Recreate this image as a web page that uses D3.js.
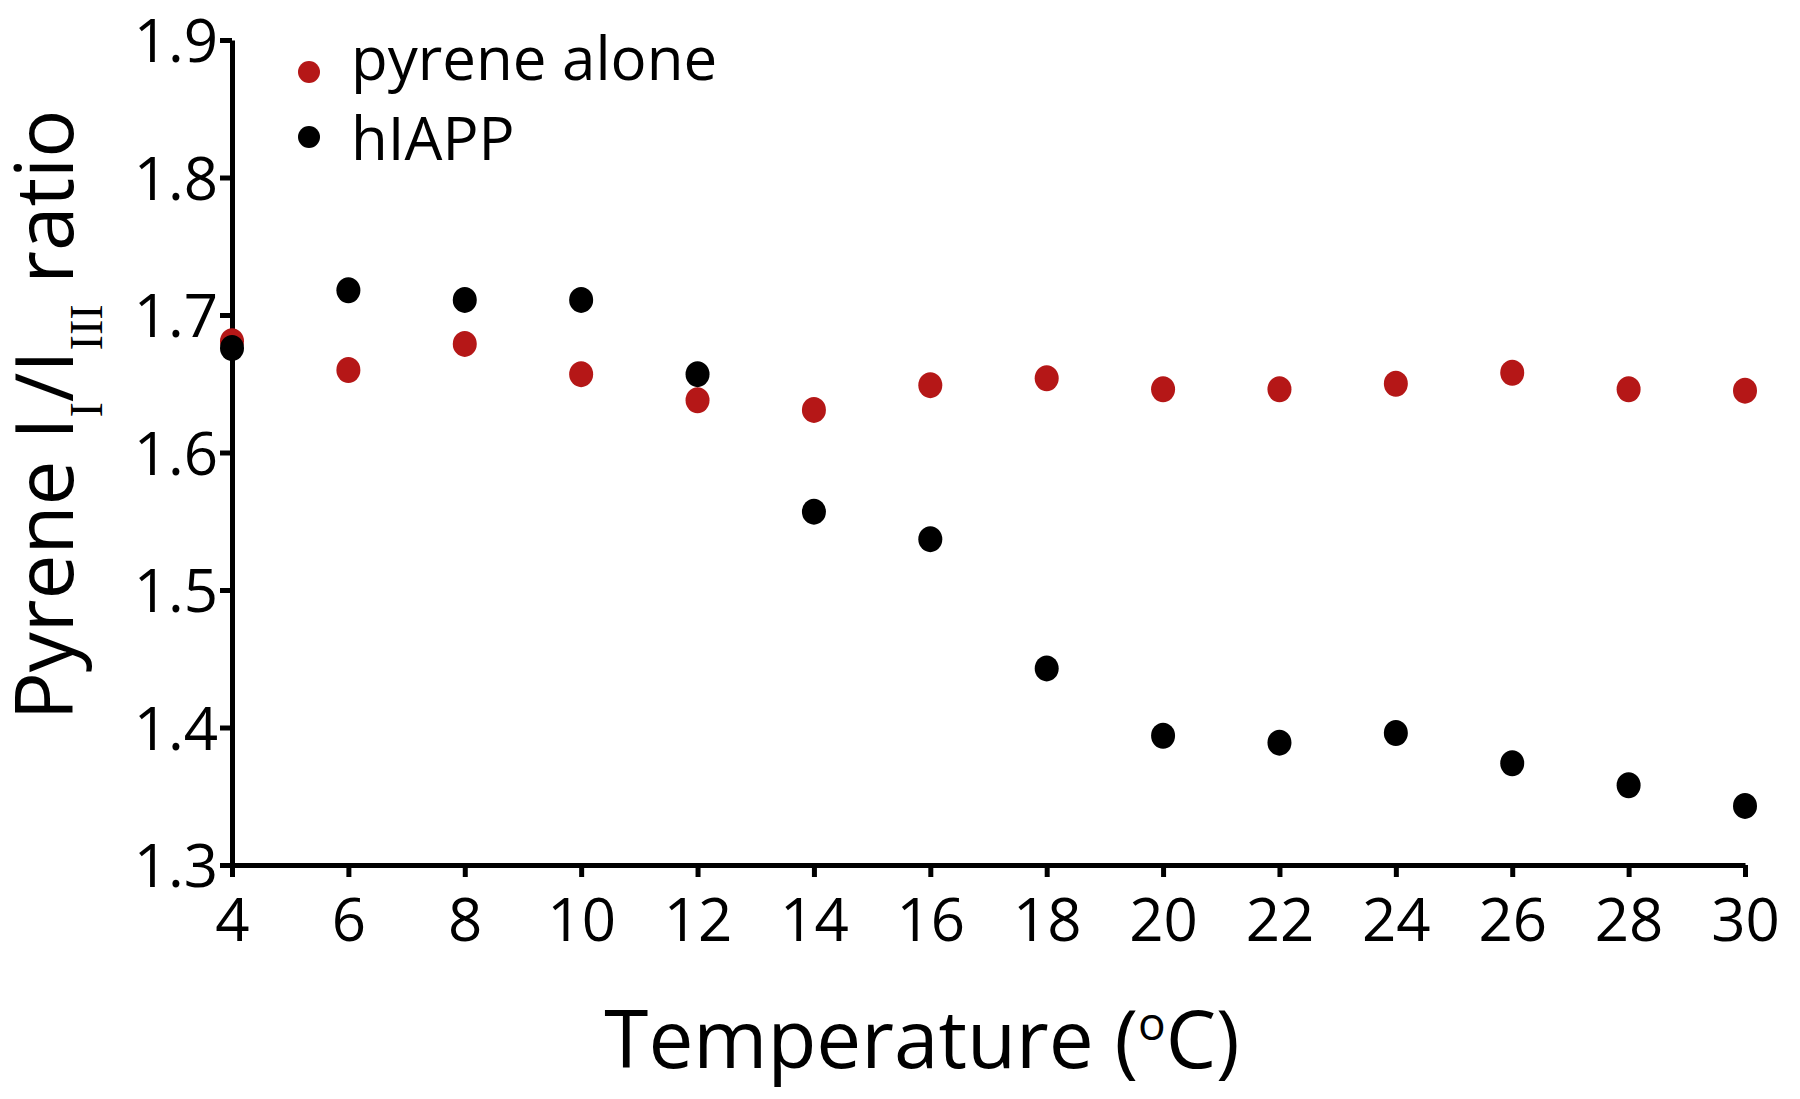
<!DOCTYPE html>
<html>
<head>
<meta charset="utf-8">
<script src="https://cdn.jsdelivr.net/npm/d3@7"></script>
<style>
  body { margin: 0; background: #fff; }
  svg { display: block; }
  text { font-family: "Open Sans", sans-serif; fill: #000; }
</style>
</head>
<body>
<svg id="chart"></svg>
<script>
const temperatures = [4, 6, 8, 10, 12, 14, 16, 18, 20, 22, 24, 26, 28, 30];
const pyreneAlone = [1.681, 1.660, 1.679, 1.657, 1.638, 1.631, 1.649, 1.654, 1.646, 1.646, 1.650, 1.658, 1.646, 1.645];
const hIAPP = [1.676, 1.718, 1.711, 1.711, 1.657, 1.557, 1.537, 1.443, 1.394, 1.389, 1.396, 1.374, 1.358, 1.343];
const yTicks = [1.3, 1.4, 1.5, 1.6, 1.7, 1.8, 1.9];
const seriesNames = ["pyrene alone", "hIAPP"];
const seriesColors = ["#b51717", "#000000"];

const width = 1800;
const height = 1099;

const svg = d3.select("#chart")
  .attr("width", width)
  .attr("height", height);

const x = d3.scaleLinear().domain([4, 30]).range([232, 1745]);
const y = d3.scaleLinear().domain([1.3, 1.9]).range([865, 40]);

// Axes
const xAxis = svg.append("g")
  .attr("transform", `translate(0,${y(1.3)})`)
  .call(d3.axisBottom(x).tickValues(temperatures).tickSize(12).tickSizeOuter(0));

const yAxis = svg.append("g")
  .attr("transform", `translate(${x(4)},0)`)
  .call(d3.axisLeft(y).tickValues(yTicks).tickFormat(d3.format(".1f")).tickSize(12).tickSizeOuter(0).tickPadding(2));

[xAxis, yAxis].forEach(g => {
  g.select(".domain").attr("stroke", "#000").attr("stroke-width", 5);
  g.selectAll(".tick line").attr("stroke", "#000").attr("stroke-width", 5);
  g.selectAll(".tick text")
    .style("font-family", "'Open Sans', sans-serif")
    .style("font-size", "60px")
    .attr("fill", "#000");
});
xAxis.selectAll(".tick text").attr("y", 76).attr("dy", 0);
yAxis.selectAll(".tick text").attr("dy", "0.36em");

// Points
const series = [pyreneAlone, hIAPP];
series.forEach((vals, si) => {
  svg.append("g")
    .selectAll("ellipse")
    .data(vals)
    .enter()
    .append("ellipse")
    .attr("cx", (d, i) => x(temperatures[i]))
    .attr("cy", d => y(d))
    .attr("rx", 12)
    .attr("ry", 13)
    .attr("fill", seriesColors[si]);
});

// Legend
const legendDotY = [72, 137];
const legendTextY = [80, 160];
seriesNames.forEach((name, i) => {
  svg.append("circle")
    .attr("cx", 309)
    .attr("cy", legendDotY[i])
    .attr("r", 11)
    .attr("fill", seriesColors[i]);
  svg.append("text")
    .attr("x", 351)
    .attr("y", legendTextY[i])
    .style("font-size", "60px")
    .text(name);
});

// X label
const xLabel = svg.append("text")
  .attr("x", 922)
  .attr("y", 1068)
  .attr("text-anchor", "middle")
  .style("font-size", "80px");
xLabel.append("tspan").text("Temperature (");
xLabel.append("tspan").attr("dy", -28).style("font-size", "46px").text("o");
xLabel.append("tspan").attr("dy", 28).text("C)");

// Y label
const yLabel = svg.append("text")
  .attr("transform", "translate(73,415) rotate(-90)")
  .attr("text-anchor", "middle")
  .style("font-size", "80px");
yLabel.append("tspan").text("Pyrene I");
yLabel.append("tspan").attr("dy", 29).style("font-family", "'Liberation Serif', serif").style("font-size", "46px").text("I");
yLabel.append("tspan").attr("dy", -29).text("/I");
yLabel.append("tspan").attr("dy", 29).style("font-family", "'Liberation Serif', serif").style("font-size", "46px").text("III");
yLabel.append("tspan").attr("dy", -29).text(" ratio");
</script>
</body>
</html>
